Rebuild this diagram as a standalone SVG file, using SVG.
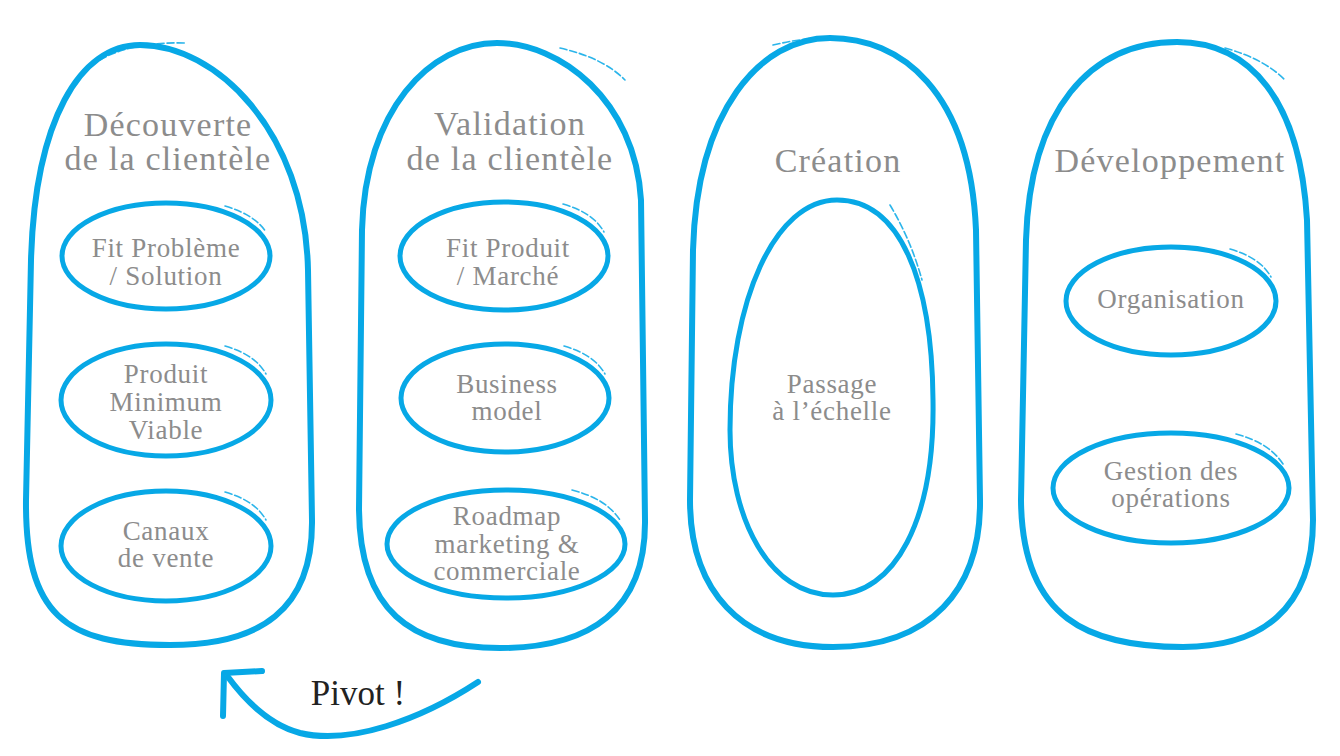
<svg xmlns="http://www.w3.org/2000/svg" width="1340" height="756" viewBox="0 0 1340 756">
<style>
.pill{fill:none;stroke:#07a8e6;stroke-width:6;stroke-linejoin:round;stroke-linecap:round}
.oval{fill:none;stroke:#07a8e6;stroke-width:5;stroke-linejoin:round}
.tail{fill:none;stroke:#07a8e6;stroke-width:1.6;stroke-linecap:round;stroke-dasharray:7 3;opacity:.85}
.title{font-family:"Liberation Serif","Times New Roman",serif;font-size:34px;letter-spacing:1.2px;fill:#8c8c8c;text-anchor:middle}
.lbl{font-family:"Liberation Serif","Times New Roman",serif;font-size:27px;letter-spacing:.7px;fill:#8c8c8c;text-anchor:middle}
.pivot{font-family:"Liberation Serif","Times New Roman",serif;font-size:35px;fill:#222;text-anchor:middle}
.arrow{fill:none;stroke:#07a8e6;stroke-width:6;stroke-linecap:round;stroke-linejoin:round}
</style>
<rect width="1340" height="756" fill="#fff"/>

<g id="col-decouverte">
<path class="pill" d="M140 45 C215 45 305 130 308 270 L312 520 C313 610 260 645 170 645 C65 645 25 615 26 500 L31 260 C35 120 80 45 140 45 Z"/>
<path class="tail" d="M100 60 C120 48 150 42 185 43"/>
<text class="title" x="168" y="136">Découverte</text>
<text class="title" x="168" y="170">de la clientèle</text>
</g>
<g id="n-fit-probleme">
<ellipse class="oval" cx="166" cy="256" rx="104" ry="53"/>
<path class="tail" d="M225 206 C245 212 258 220 266 232"/>
<text class="lbl" x="166" y="257">Fit Problème</text>
<text class="lbl" x="166" y="285">/ Solution</text>
</g>
<g id="n-mvp">
<ellipse class="oval" cx="166" cy="400" rx="105" ry="56"/>
<path class="tail" d="M225 346 C245 352 258 360 266 374"/>
<text class="lbl" x="166" y="383">Produit</text>
<text class="lbl" x="166" y="411">Minimum</text>
<text class="lbl" x="166" y="439">Viable</text>
</g>
<g id="n-canaux">
<ellipse class="oval" cx="166" cy="546" rx="105" ry="55"/>
<path class="tail" d="M225 492 C245 498 258 506 266 520"/>
<text class="lbl" x="166" y="540">Canaux</text>
<text class="lbl" x="166" y="567">de vente</text>
</g>

<g id="col-validation">
<path class="pill" d="M497 43 C560 43 635 100 641 200 L645 520 C646 610 590 648 500 648 C410 648 360 610 359 510 L362 230 C365 110 430 43 497 43 Z"/>
<path class="tail" d="M560 48 C590 55 610 65 625 80"/>
<text class="title" x="510" y="135">Validation</text>
<text class="title" x="510" y="170">de la clientèle</text>
</g>
<g id="n-fit-produit">
<ellipse class="oval" cx="504" cy="256" rx="104" ry="54"/>
<path class="tail" d="M563 204 C583 210 596 218 604 232"/>
<text class="lbl" x="508" y="257">Fit Produit</text>
<text class="lbl" x="508" y="285">/ Marché</text>
</g>
<g id="n-business">
<ellipse class="oval" cx="505" cy="398" rx="104" ry="54"/>
<path class="tail" d="M564 346 C584 352 597 360 605 374"/>
<text class="lbl" x="507" y="393">Business</text>
<text class="lbl" x="507" y="420">model</text>
</g>
<g id="n-roadmap">
<ellipse class="oval" cx="506" cy="544" rx="119" ry="54"/>
<path class="tail" d="M572 490 C595 496 610 505 620 520"/>
<text class="lbl" x="507" y="525">Roadmap</text>
<text class="lbl" x="507" y="553">marketing &amp;</text>
<text class="lbl" x="507" y="580">commerciale</text>
</g>

<g id="col-creation">
<path class="pill" d="M830 38 C900 38 970 90 976 230 L980 500 C981 590 930 647 833 647 C740 647 690 590 690 500 L693 250 C697 110 760 38 830 38 Z"/>
<path class="tail" d="M773 45 C795 40 815 37 840 37"/>
<text class="title" x="838" y="172">Création</text>
</g>
<g id="n-passage">
<path class="oval" d="M837 200 C900 200 932 280 933 400 C935 520 895 595 833 595 C770 595 730 520 730 430 C730 300 775 200 837 200 Z"/>
<path class="tail" d="M890 205 C905 230 915 255 922 280"/>
<text class="lbl" x="832" y="393">Passage</text>
<text class="lbl" x="832" y="420">à l’échelle</text>
</g>

<g id="col-developpement">
<path class="pill" d="M1177 42 C1250 42 1300 100 1307 220 L1313 520 C1313 610 1260 647 1183 647 C1090 647 1022 620 1021 500 L1026 240 C1030 110 1090 42 1177 42 Z"/>
<path class="tail" d="M1225 48 C1250 55 1270 65 1285 80"/>
<text class="title" x="1170" y="172">Développement</text>
</g>
<g id="n-organisation">
<ellipse class="oval" cx="1171" cy="301" rx="105" ry="54"/>
<path class="tail" d="M1230 249 C1250 255 1263 263 1271 277"/>
<text class="lbl" x="1171" y="308">Organisation</text>
</g>
<g id="n-gestion">
<ellipse class="oval" cx="1171" cy="488" rx="118" ry="55"/>
<path class="tail" d="M1236 434 C1258 440 1273 449 1283 464"/>
<text class="lbl" x="1171" y="480">Gestion des</text>
<text class="lbl" x="1171" y="507">opérations</text>
</g>

<g id="connectors">
<path class="arrow" d="M478 682 C420 720 350 745 300 733 C270 725 245 700 228 677"/>
<path class="arrow" d="M262 671 L224 673 L223 716"/>
<text class="pivot" x="358" y="705">Pivot !</text>
</g>
</svg>
